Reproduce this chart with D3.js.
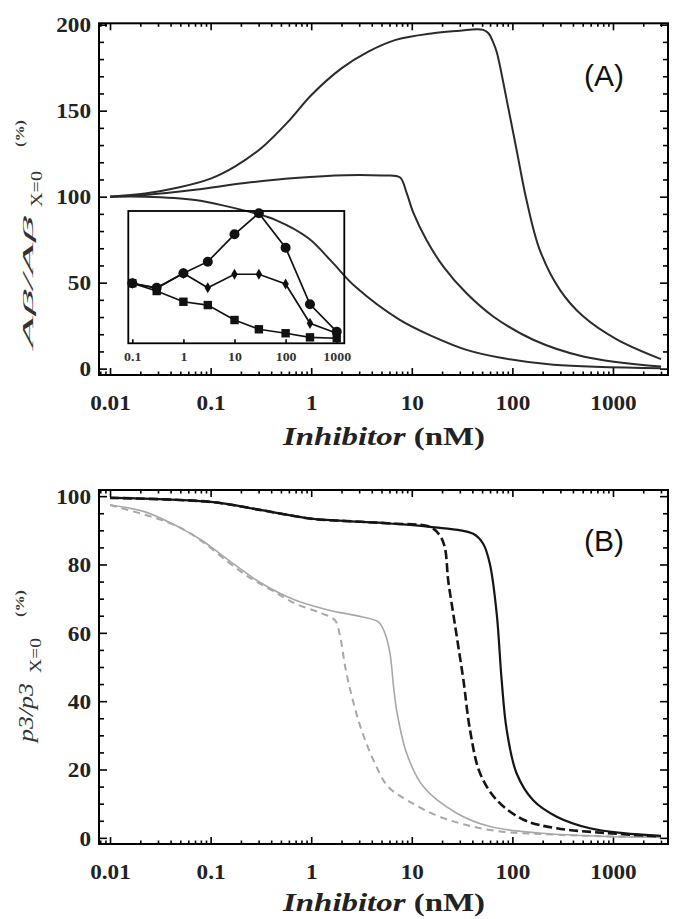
<!DOCTYPE html>
<html><head><meta charset="utf-8">
<script src="https://cdn.jsdelivr.net/npm/d3@7"></script>
<style>body{margin:0;background:#fff}svg{display:block}</style>
</head><body>
<svg id="c" width="673" height="919"></svg>
<script>
// ---------- DATA ----------
const xTicks = [0.01, 0.1, 1, 10, 100, 1000];
const xTickLabels = ["0.01", "0.1", "1", "10", "100", "1000"];
const topYTicks = [0, 50, 100, 150, 200];
const bottomYTicks = [0, 20, 40, 60, 80, 100];

// Panel A curves
const a1X = [0.01, 0.0223, 0.0478, 0.1, 0.174, 0.32, 0.59, 1.0, 2.0, 3.7, 6.8, 16.3, 30, 44, 51.4, 57.8, 64.9, 70, 87.8, 110, 138, 187, 297, 505, 1090, 3000];
const a1Y = [100, 101.8, 105.3, 110.5, 117.5, 128.3, 143.6, 159, 174.6, 184.3, 191, 195, 196.5, 197.4, 197, 195, 189.3, 184, 156.3, 127.3, 98.2, 69.1, 45.8, 30.4, 17, 5.5];
const a2X = [0.01, 0.0223, 0.07, 0.22, 0.69, 2.18, 5, 7.6, 8.9, 10.4, 14, 20.6, 35, 65, 161, 505, 3000];
const a2Y = [100, 101, 104, 107.9, 110.8, 112.5, 112.3, 111.3, 102, 90.4, 74.8, 59.3, 43.8, 30.2, 16.8, 7.1, 1.2];
const a3X = [0.01, 0.0223, 0.07, 0.15, 0.276, 0.44, 0.94, 1.6, 2.74, 7.6, 16.3, 35, 81.6, 256, 3000];
const a3Y = [100, 100, 98.1, 94.2, 90.3, 86.5, 75.8, 62.2, 47.7, 28.3, 18.6, 10.9, 6, 2.2, 0.2];

// Inset data
const insetX = [0.1, 0.3, 1, 3, 10, 30, 100, 300, 1000];
const insetTicks = [0.1, 1, 10, 100, 1000];
const insetTickLabels = ["0.1", "1", "10", "100", "1000"];
const insetCircles = [45.4, 42, 52.9, 61.7, 82.4, 98.3, 72.3, 29.5, 8.8];
const insetDiamonds = [45.4, 41.5, 52.9, 42, 52.2, 52.2, 44.8, 15.1, 7.6];
const insetSquares = [45.4, 39.5, 31.4, 28.9, 17.6, 10.6, 7.6, 4.5, 3.8];

// Panel B curves
const bBlackX = [0.01, 0.1, 0.32, 1.0, 3.16, 6.07, 15.2, 40.8, 51.4, 59.9, 69.8, 78.3, 87.8, 110, 161, 276, 590, 1265, 3000];
const bBlackY = [99.5, 98.3, 95.9, 93.4, 92.5, 92, 91, 89, 86, 80, 65.7, 46, 31.6, 18.9, 11, 6.2, 2.8, 1.4, 0.6];
const bBlackDashX = [0.01, 0.1, 0.32, 1.0, 3.16, 6.07, 15.2, 18.9, 21.3, 23, 25.8, 29, 32.6, 37.9, 47.7, 69.8, 129, 276, 870, 3000];
const bBlackDashY = [99.5, 98.3, 95.9, 93.4, 92.5, 92, 91, 88.6, 85, 75.4, 65.7, 56, 46.2, 31.6, 18.9, 11.1, 5.3, 2.8, 1.4, 0.4];
const bGrayX = [0.01, 0.0223, 0.0478, 0.0815, 0.15, 0.32, 0.69, 1.47, 3.16, 4.65, 5.4, 6.07, 6.6, 7.1, 8.9, 13, 28, 60, 186, 870, 3000];
const bGrayY = [97.4, 95.4, 91, 87.1, 81.3, 74.5, 69.6, 66.7, 64.7, 63.2, 59.9, 54, 44, 37, 24.7, 15, 7.2, 3.3, 1.4, 0.4, 0.2];
const bGrayDashX = [0.01, 0.0327, 0.056, 0.088, 0.15, 0.237, 0.403, 0.69, 1.27, 1.72, 1.94, 2.18, 2.54, 3.16, 4.3, 5.8, 8.9, 18.9, 60, 276, 3000];
const bGrayDashY = [97.4, 93, 90, 86.1, 80.7, 76.4, 72.5, 68.6, 65.7, 63.7, 58.9, 50, 41.3, 31.6, 21.8, 15, 11.1, 6.2, 2.3, 0.9, 0.2];

// ---------- DRAW ----------
const svg = d3.select("#c");
const zip = (xs, ys) => xs.map((v, i) => [v, ys[i]]);
const SX = 1.16; // horizontal glyph stretch of the reference labels

function minorLogTicks(domain) {
  const out = [];
  for (let e = -4; e <= 4; e++) for (let m = 2; m <= 9; m++) {
    const v = m * Math.pow(10, e);
    if (v >= domain[0] && v <= domain[1]) out.push(v);
  }
  return out;
}

function styleAxis(g) {
  g.select(".domain").remove();
  g.selectAll(".tick line").attr("stroke", "#000").attr("stroke-width", 1.6);
}

function drawPanel(o) {
  const x = d3.scaleLog().domain([0.00777, 3524]).range([99, 668]);
  const y = d3.scaleLinear().domain(o.yDomain).range([o.bottom, o.top]);
  const g = svg.append("g");
  const minorX = minorLogTicks(x.domain());
  const minorY = d3.range(o.yMinorStep * Math.ceil(o.yDomain[0] / o.yMinorStep), o.yDomain[1] + 0.001, o.yMinorStep)
    .filter(v => !o.yTicks.includes(v));

  g.append("g").attr("transform", `translate(0,${o.bottom})`)
    .call(d3.axisBottom(x).tickValues(minorX).tickSize(-3.5).tickFormat("")).call(styleAxis);
  const xb = g.append("g").attr("transform", `translate(0,${o.bottom})`)
    .call(d3.axisBottom(x).tickValues(xTicks).tickSize(-7).tickFormat((d, i) => xTickLabels[i])).call(styleAxis);
  xb.selectAll("text").attr("dy", null).attr("y", 35)
    .attr("font-family", "Liberation Serif, serif").attr("font-weight", "bold").attr("font-size", 20)
    .attr("fill", "#222").attr("transform", `scale(${SX},1)`);
  g.append("g").attr("transform", `translate(0,${o.top})`)
    .call(d3.axisTop(x).tickValues(minorX).tickSize(-3.5).tickFormat("")).call(styleAxis);
  g.append("g").attr("transform", `translate(0,${o.top})`)
    .call(d3.axisTop(x).tickValues(xTicks).tickSize(-7).tickFormat("")).call(styleAxis);

  g.append("g").attr("transform", "translate(99,0)")
    .call(d3.axisLeft(y).tickValues(minorY).tickSize(-5).tickFormat("")).call(styleAxis);
  const yl = g.append("g").attr("transform", "translate(99,0)")
    .call(d3.axisLeft(y).tickValues(o.yTicks).tickSize(-8).tickFormat(d3.format("d"))).call(styleAxis);
  yl.selectAll("text").attr("x", -8 / SX).attr("dy", "0.36em")
    .attr("font-family", "Liberation Serif, serif").attr("font-weight", "bold").attr("font-size", 20)
    .attr("fill", "#222").attr("transform", `scale(${SX},1)`);
  g.append("g").attr("transform", "translate(668,0)")
    .call(d3.axisRight(y).tickValues(minorY).tickSize(-5).tickFormat("")).call(styleAxis);
  g.append("g").attr("transform", "translate(668,0)")
    .call(d3.axisRight(y).tickValues(o.yTicks).tickSize(-8).tickFormat("")).call(styleAxis);

  g.append("rect").attr("x", 99).attr("y", o.top).attr("width", 668 - 99).attr("height", o.bottom - o.top)
    .attr("fill", "none").attr("stroke", "#000").attr("stroke-width", 2);

  const line = d3.line().x(d => x(d[0])).y(d => y(d[1])).curve(d3.curveCatmullRom.alpha(0.5));
  o.curves.forEach(c => {
    g.append("path").datum(zip(c.xs, c.ys)).attr("d", line)
      .attr("fill", "none").attr("stroke", c.color).attr("stroke-width", c.width)
      .attr("stroke-dasharray", c.dash || null).attr("stroke-linejoin", "round");
  });

  const t = g.append("text").attr("x", 384).attr("y", o.bottom + o.titleDy).attr("text-anchor", "middle")
    .attr("font-family", "Liberation Serif, serif").attr("font-weight", "bold").attr("font-size", 26)
    .attr("fill", "#222").attr("textLength", 202).attr("lengthAdjust", "spacingAndGlyphs");
  t.append("tspan").attr("font-style", "italic").text("Inhibitor");
  t.append("tspan").text(" (nM)");

  g.append("text").attr("x", 604).attr("y", o.top + o.labelDy).attr("text-anchor", "middle")
    .attr("font-family", "Liberation Sans, Arial, sans-serif").attr("font-size", 30).attr("fill", "#111")
    .text(o.label);

  o.yTitle.forEach(p => {
    g.append("text").attr("transform", `translate(${p.bx},${p.start}) rotate(-90)`)
      .attr("font-family", "Liberation Serif, serif").attr("font-style", p.italic ? "italic" : "normal")
      .attr("font-weight", p.bold ? "bold" : "normal").attr("font-size", p.size).attr("fill", "#333")
      .attr("textLength", p.len).attr("lengthAdjust", "spacingAndGlyphs").text(p.text);
  });
  return { x, y, g };
}

drawPanel({
  top: 23.3, bottom: 375, yDomain: [-3.7, 200.8], yTicks: topYTicks, yMinorStep: 10,
  label: "(A)", labelDy: 63, titleDy: 70,
  curves: [
    { xs: a1X, ys: a1Y, color: "#2b2b2b", width: 2 },
    { xs: a2X, ys: a2Y, color: "#2b2b2b", width: 2 },
    { xs: a3X, ys: a3Y, color: "#2b2b2b", width: 2 }
  ],
  yTitle: [
    { text: "Aβ/Aβ", bx: 33, start: 348, len: 132, size: 15, italic: true },
    { text: "X=0", bx: 42, start: 207, len: 36, size: 17 },
    { text: "(%)", bx: 24, start: 147, len: 27, size: 13, bold: true }
  ]
});

drawPanel({
  top: 490, bottom: 844, yDomain: [-1.8, 101.8], yTicks: bottomYTicks, yMinorStep: 5,
  label: "(B)", labelDy: 61, titleDy: 67,
  curves: [
    { xs: bGrayX, ys: bGrayY, color: "#a8a8a8", width: 1.6 },
    { xs: bGrayDashX, ys: bGrayDashY, color: "#a8a8a8", width: 2, dash: "7,5" },
    { xs: bBlackX, ys: bBlackY, color: "#151515", width: 2.2 },
    { xs: bBlackDashX, ys: bBlackDashY, color: "#151515", width: 2.6, dash: "9,4" }
  ],
  yTitle: [
    { text: "p3/p3", bx: 33, start: 742, len: 59, size: 20, italic: true },
    { text: "X=0", bx: 41, start: 673, len: 35, size: 17 },
    { text: "(%)", bx: 24, start: 617, len: 27, size: 13, bold: true }
  ]
});

// ---------- INSET ----------
const ix = d3.scaleLog().domain([0.0835, 1408]).range([128.3, 344.3]);
const iy = d3.scaleLinear().domain([0, 100]).range([343.3, 211]);
const ig = svg.append("g");
ig.append("rect").attr("x", 128.3).attr("y", 211).attr("width", 344.3 - 128.3).attr("height", 343.3 - 211)
  .attr("fill", "none").attr("stroke", "#000").attr("stroke-width", 1.8);
const ia = ig.append("g").attr("transform", "translate(0,343.3)")
  .call(d3.axisBottom(ix).tickValues(insetTicks).tickSize(-4).tickFormat((d, i) => insetTickLabels[i]))
  .call(styleAxis);
ia.selectAll("text").attr("dy", null).attr("y", 18)
  .attr("font-family", "Liberation Serif, serif").attr("font-weight", "bold").attr("font-size", 12)
  .attr("fill", "#333").attr("transform", `scale(${SX},1)`);
const iline = d3.line().x(d => ix(d[0])).y(d => iy(d[1]));
[insetSquares, insetDiamonds, insetCircles].forEach(s => {
  ig.append("path").datum(zip(insetX, s)).attr("d", iline).attr("fill", "none")
    .attr("stroke", "#111").attr("stroke-width", 1.7);
});
ig.selectAll(".sq").data(zip(insetX, insetSquares)).join("rect")
  .attr("x", d => ix(d[0]) - 4.2).attr("y", d => iy(d[1]) - 4.2).attr("width", 8.4).attr("height", 8.4).attr("fill", "#111");
ig.selectAll(".dm").data(zip(insetX, insetDiamonds)).join("path")
  .attr("d", d3.symbol().type(d3.symbolDiamond).size(36))
  .attr("transform", d => `translate(${ix(d[0])},${iy(d[1])})`).attr("fill", "#111");
ig.selectAll(".ci").data(zip(insetX, insetCircles)).join("circle")
  .attr("cx", d => ix(d[0])).attr("cy", d => iy(d[1])).attr("r", 5).attr("fill", "#111");
</script>
</body></html>
